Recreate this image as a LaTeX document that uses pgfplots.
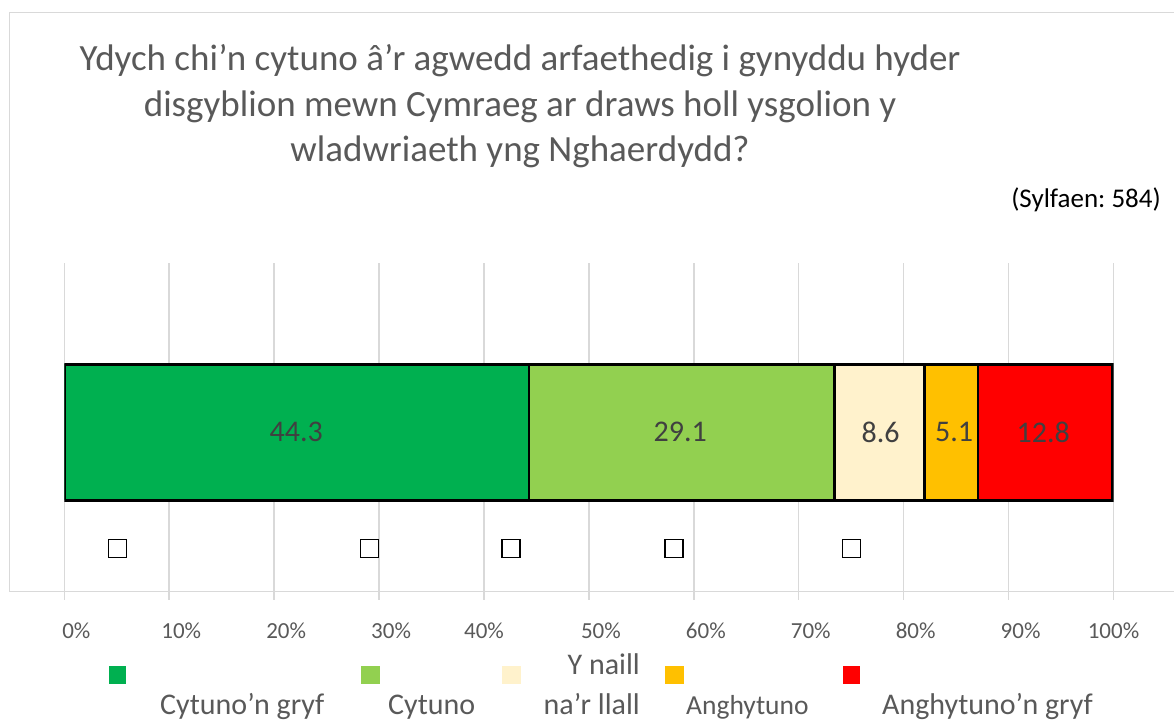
\documentclass[border=0pt]{standalone}
\usepackage{fontspec}
\setmainfont{Carlito}
\usepackage{pgfplots}
\pgfplotsset{compat=1.18}
\definecolor{gridgray}{HTML}{D9D9D9}
\definecolor{txtgray}{HTML}{595959}
\definecolor{lblgray}{HTML}{404040}
\definecolor{c1}{HTML}{00B050}
\definecolor{c2}{HTML}{92D050}
\definecolor{c3}{HTML}{FFF2CC}
\definecolor{c4}{HTML}{FFC000}
\definecolor{c5}{HTML}{FF0000}
\frenchspacing
\begin{document}
\begin{tikzpicture}[x=1pt,y=1pt]
\path[use as bounding box] (0,0) rectangle (1174,722);
\draw[gridgray, line width=1.5pt] (1180,709.7) -- (9.6,709.7) -- (9.6,130.3) -- (1180,130.3);
% title
\node[anchor=base, text=txtgray, font=\fontsize{37}{45}\selectfont, inner sep=0] at (520,651) {Ydych chi’n cytuno â’r agwedd arfaethedig i gynyddu hyder};
\node[anchor=base, text=txtgray, font=\fontsize{37}{45}\selectfont, inner sep=0] at (520,605.3) {disgyblion mewn Cymraeg ar draws holl ysgolion y};
\node[anchor=base, text=txtgray, font=\fontsize{37}{45}\selectfont, inner sep=0] at (520,560.3) {wladwriaeth yng Nghaerdydd?};
\node[anchor=base east, text=black, font=\fontsize{27}{32}\selectfont, inner sep=0] at (1161,514) {(Sylfaen: 584)};
\begin{axis}[
  at={(64.3pt,122pt)}, anchor=south west,
  scale only axis, width=1049.2pt, height=337pt,
  xmin=0, xmax=100, ymin=0, ymax=337,
  xbar stacked, bar width=136,
  axis line style={draw=none},
  major tick length=0pt,
  ytick=\empty,
  xtick={0,10,20,30,50,60,70,80,90},
  xticklabels={0\%,10\%,20\%,30\%,50\%,60\%,70\%,80\%,90\%},
  extra x ticks={40,100},
  extra x tick labels={40\%,100\%},
  extra x tick style={grid=major, xticklabel style={xshift=-12pt}},
  xmajorgrids, grid style={gridgray, line width=1.5pt},
  xticklabel style={anchor=center, yshift=-30.5pt, xshift=12pt, font=\fontsize{23}{27}\selectfont, text=txtgray},
]
\addplot[fill=c1, draw=black, line width=2.6pt] coordinates {(44.3,167.7)};
\addplot[fill=c2, draw=black, line width=2.6pt] coordinates {(29.1,167.7)};
\addplot[fill=c3, draw=black, line width=2.6pt] coordinates {(8.6,167.7)};
\addplot[fill=c4, draw=black, line width=2.6pt] coordinates {(5.1,167.7)};
\addplot[fill=c5, draw=black, line width=2.6pt] coordinates {(12.8,167.7)};
\end{axis}
\begin{axis}[
  at={(64.3pt,122pt)}, anchor=south west,
  scale only axis, width=1049.2pt, height=337pt,
  xmin=0, xmax=100, ymin=0, ymax=337,
  hide axis, clip=false,
]
% data labels at the centre of each segment
\addplot[draw=none, mark=none, point meta=explicit symbolic, nodes near coords,
  every node near coord/.style={anchor=center, inner sep=0, text=lblgray, font=\fontsize{30}{36}\selectfont}]
  coordinates {(22.1,168) [44.3] (58.7,168) [29.1] (77.8,168) [8.6] (84.8,168) [5.1] (93.3,168) [12.8]};
% empty-glyph squares of the reference
\addplot[only marks, mark=square, mark size=9pt, black, mark options={line width=1.3pt}] coordinates {(5.09,51.5) (29.07,51.5) (42.58,51.5) (58.11,51.5) (75.06,51.5)};
\end{axis}
% legend
\fill[c1] (109,38) rectangle (126,56);
\fill[c2] (361,38) rectangle (380,56);
\fill[c3] (502,38) rectangle (521,56);
\fill[c4] (665,38) rectangle (684,56);
\fill[c5] (843,38) rectangle (860,56);
\node[anchor=base west, text=txtgray, font=\fontsize{30}{36}\selectfont, inner sep=0] at (160,7) {Cytuno’n gryf};
\node[anchor=base west, text=txtgray, font=\fontsize{30}{36}\selectfont, inner sep=0] at (388,7) {Cytuno};
\node[anchor=base east, text=txtgray, font=\fontsize{30}{36}\selectfont, inner sep=0] at (640,47) {Y naill};
\node[anchor=base east, text=txtgray, font=\fontsize{30}{36}\selectfont, inner sep=0] at (640,7) {na’r llall};
\node[anchor=base west, text=txtgray, font=\fontsize{27.5}{33}\selectfont, inner sep=0] at (686,7) {Anghytuno};
\node[anchor=base west, text=txtgray, font=\fontsize{30}{36}\selectfont, inner sep=0] at (882,7) {Anghytuno’n gryf};
\end{tikzpicture}
\end{document}
